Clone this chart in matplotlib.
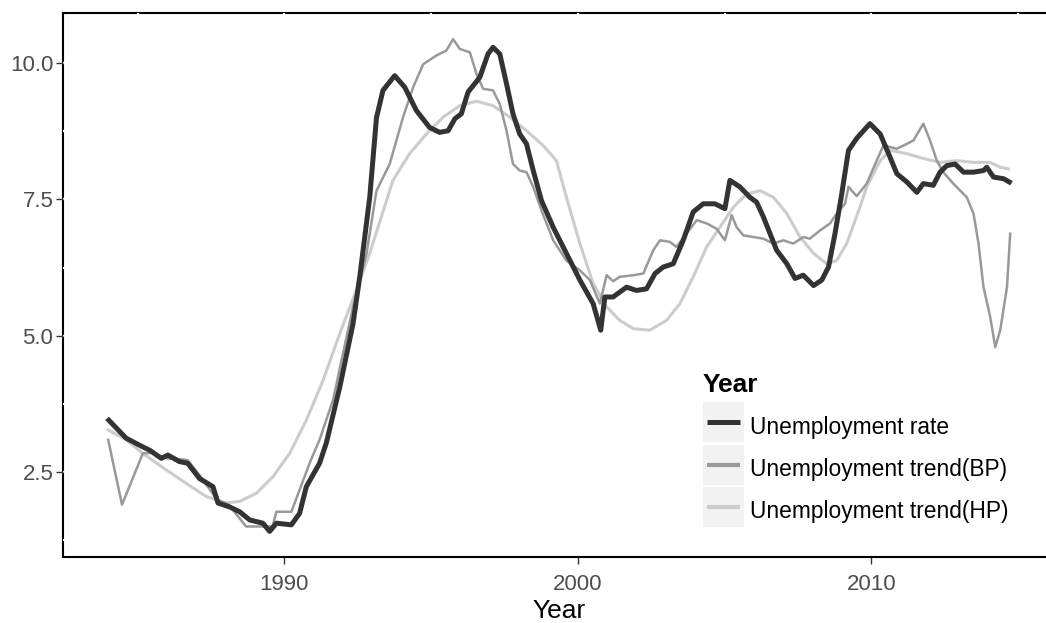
#!/usr/bin/env python3
"""Unemployment rate with BP and HP trends, saved as out.png."""

import matplotlib

matplotlib.use("Agg")

import matplotlib.pyplot as plt
from matplotlib.lines import Line2D
from matplotlib.patches import Rectangle
from matplotlib.ticker import FormatStrFormatter, MultipleLocator

# Values
rate_year = [1984.02, 1984.61, 1985.18, 1985.41, 1985.81, 1986.03, 1986.43, 1986.71,
             1987.11, 1987.57, 1987.74, 1988.13, 1988.48, 1988.82, 1989.27, 1989.50,
             1989.73, 1990.24, 1990.52, 1990.75, 1991.20, 1991.43, 1991.89, 1992.34,
             1992.57, 1992.91, 1993.14, 1993.36, 1993.76, 1994.10, 1994.50, 1994.95,
             1995.29, 1995.58, 1995.81, 1996.03, 1996.26, 1996.66, 1996.94, 1997.11,
             1997.34, 1997.57, 1997.79, 1998.02, 1998.25, 1998.48, 1998.76, 1999.16,
             1999.61, 2000.07, 2000.52, 2000.78, 2000.92, 2001.20, 2001.66, 2002.00,
             2002.34, 2002.63, 2002.91, 2003.25, 2003.59, 2003.93, 2004.27, 2004.67,
             2005.01, 2005.18, 2005.52, 2005.86, 2006.09, 2006.32, 2006.55, 2006.77,
             2007.12, 2007.40, 2007.68, 2008.03, 2008.31, 2008.54, 2008.76, 2008.99,
             2009.22, 2009.50, 2009.95, 2010.30, 2010.64, 2010.87, 2011.21, 2011.55,
             2011.77, 2012.11, 2012.34, 2012.57, 2012.85, 2013.14, 2013.48, 2013.82,
             2013.93, 2014.16, 2014.50, 2014.70]
rate_val = [3.45, 3.12, 2.96, 2.90, 2.75, 2.81, 2.69, 2.66,
            2.38, 2.23, 1.93, 1.86, 1.77, 1.62, 1.56, 1.41,
            1.56, 1.53, 1.74, 2.23, 2.66, 3.03, 4.06, 5.22,
            6.08, 7.54, 9.00, 9.50, 9.77, 9.56, 9.13, 8.82,
            8.73, 8.76, 8.98, 9.07, 9.47, 9.74, 10.17, 10.29,
            10.17, 9.62, 9.07, 8.70, 8.52, 8.03, 7.48, 6.99,
            6.51, 6.02, 5.59, 5.10, 5.71, 5.71, 5.89, 5.83,
            5.86, 6.14, 6.26, 6.32, 6.75, 7.27, 7.42, 7.42,
            7.33, 7.85, 7.73, 7.54, 7.45, 7.18, 6.87, 6.57,
            6.32, 6.05, 6.11, 5.92, 6.02, 6.26, 6.87, 7.60,
            8.40, 8.62, 8.89, 8.70, 8.27, 7.97, 7.82, 7.63,
            7.79, 7.76, 8.00, 8.12, 8.15, 8.00, 8.00, 8.03,
            8.09, 7.91, 7.88, 7.82]

bp_year = [1984.00, 1984.47, 1985.18, 1985.50, 1986.00, 1986.70, 1987.10, 1987.70,
           1988.10, 1988.70, 1989.30, 1989.60, 1989.73, 1990.24, 1990.52, 1990.86,
           1991.20, 1991.66, 1992.34, 1992.80, 1993.14, 1993.59, 1994.04, 1994.39,
           1994.73, 1995.18, 1995.52, 1995.75, 1995.98, 1996.32, 1996.55, 1996.77,
           1997.11, 1997.34, 1997.57, 1997.79, 1998.02, 1998.25, 1998.48, 1998.76,
           1999.16, 1999.61, 2000.07, 2000.41, 2000.75, 2000.98, 2001.20, 2001.43,
           2001.89, 2002.23, 2002.57, 2002.80, 2003.14, 2003.36, 2003.70, 2004.05,
           2004.39, 2004.73, 2005.01, 2005.24, 2005.41, 2005.64, 2005.98, 2006.32,
           2006.66, 2007.00, 2007.34, 2007.68, 2007.90, 2008.25, 2008.59, 2008.82,
           2009.10, 2009.22, 2009.50, 2009.84, 2010.18, 2010.41, 2010.87, 2011.21,
           2011.43, 2011.77, 2012.00, 2012.23, 2012.45, 2012.79, 2013.25, 2013.48,
           2013.65, 2013.82, 2014.05, 2014.22, 2014.39, 2014.62, 2014.73]
bp_val = [3.09, 1.90, 2.84, 2.85, 2.75, 2.72, 2.45, 2.00,
          1.90, 1.50, 1.50, 1.50, 1.77, 1.77, 2.17, 2.66,
          3.09, 3.82, 5.53, 6.50, 7.66, 8.15, 9.00, 9.56,
          9.98, 10.14, 10.23, 10.44, 10.26, 10.20, 9.80, 9.53,
          9.50, 9.25, 8.76, 8.15, 8.03, 8.00, 7.73, 7.30,
          6.75, 6.38, 6.20, 6.02, 5.59, 6.11, 6.00, 6.08,
          6.11, 6.14, 6.57, 6.75, 6.72, 6.63, 6.87, 7.12,
          7.06, 6.96, 6.75, 7.21, 6.99, 6.84, 6.81, 6.78,
          6.69, 6.75, 6.69, 6.81, 6.78, 6.93, 7.06, 7.24,
          7.42, 7.73, 7.56, 7.79, 8.21, 8.49, 8.43, 8.52,
          8.58, 8.89, 8.58, 8.21, 8.00, 7.79, 7.54, 7.24,
          6.69, 5.89, 5.34, 4.79, 5.10, 5.89, 6.87]

hp_year = [1984.00, 1984.61, 1985.18, 1985.97, 1986.66, 1987.34, 1988.02, 1988.48,
           1989.05, 1989.61, 1990.18, 1990.75, 1991.32, 1991.89, 1992.45, 1992.91,
           1993.70, 1994.27, 1994.84, 1995.41, 1995.98, 1996.55, 1997.11, 1997.68,
           1998.25, 1998.82, 1999.27, 1999.61, 2000.07, 2000.52, 2000.98, 2001.43,
           2001.89, 2002.45, 2003.02, 2003.48, 2003.93, 2004.39, 2004.84, 2005.30,
           2005.75, 2006.21, 2006.66, 2007.12, 2007.57, 2008.03, 2008.48, 2008.82,
           2009.16, 2009.61, 2009.84, 2010.30, 2010.64, 2011.21, 2011.77, 2012.34,
           2012.91, 2013.48, 2014.05, 2014.39, 2014.67]
hp_val = [3.27, 3.09, 2.84, 2.54, 2.29, 2.05, 1.93, 1.96,
          2.11, 2.41, 2.84, 3.45, 4.18, 5.04, 5.83, 6.51,
          7.85, 8.34, 8.70, 9.01, 9.22, 9.30, 9.22, 9.01,
          8.76, 8.49, 8.21, 7.54, 6.69, 5.96, 5.53, 5.28,
          5.13, 5.10, 5.28, 5.59, 6.08, 6.63, 6.99, 7.36,
          7.60, 7.66, 7.54, 7.24, 6.81, 6.51, 6.32, 6.38,
          6.69, 7.36, 7.73, 8.21, 8.40, 8.34, 8.25, 8.18,
          8.21, 8.18, 8.18, 8.09, 8.06]

series_labels = ["Unemployment rate", "Unemployment trend(BP)", "Unemployment trend(HP)"]
series_colors = ["#333333", "#999999", "#CCCCCC"]
series_widths = [3.6, 1.8, 2.2]
legend_widths = [3.6, 3.0, 3.0]

W, H = 1046, 623


class KeyHandler:
    """Clave de leyenda estilo ggplot: cuadro gris claro con la linea centrada."""

    # en puntos, relativo a la linea base del texto
    box_bottom = -6.3
    box_top = 22.5
    inset = 3.0

    def legend_artist(self, legend, orig_handle, fontsize, handlebox):
        x0 = -handlebox.xdescent
        w = handlebox.width
        rect = Rectangle((x0, self.box_bottom), w, self.box_top - self.box_bottom,
                         facecolor="#F2F2F2", edgecolor="none")
        yc = (self.box_bottom + self.box_top) / 2
        line = Line2D([x0 + self.inset, x0 + w - self.inset], [yc, yc],
                      color=orig_handle.get_color(),
                      linewidth=orig_handle.get_linewidth(),
                      solid_capstyle="butt")
        handlebox.add_artist(rect)
        handlebox.add_artist(line)
        return rect


def setup_axes(fig):
    # el panel se sale un poco por la derecha, como en la referencia
    ax = fig.add_axes([63 / W, 1 - 557 / H, (1056 - 63) / W, (557 - 13) / H])
    ax.set_xlim(1982.46, 2016.29)
    ax.set_ylim(0.94, 10.92)

    ax.xaxis.set_major_locator(MultipleLocator(10))
    ax.xaxis.set_minor_locator(MultipleLocator(5))
    ax.yaxis.set_major_locator(MultipleLocator(2.5))
    ax.yaxis.set_minor_locator(MultipleLocator(1.25))
    ax.yaxis.set_major_formatter(FormatStrFormatter("%.1f"))

    ax.grid(which="both", color="white", linewidth=1.6)
    ax.tick_params(which="major", length=5, width=1.0, color="#333333",
                   labelsize=16, labelcolor="#4D4D4D", pad=2)
    ax.tick_params(axis="x", pad=7)
    ax.tick_params(which="minor", length=0)

    for side in ["top", "left", "bottom"]:
        ax.spines[side].set_color("black")
        ax.spines[side].set_linewidth(1.5)
    ax.spines["right"].set_visible(False)
    # las lineas blancas del grid cortan el borde superior e izquierdo
    ax.spines["top"].set_zorder(1.0)
    ax.spines["left"].set_zorder(1.0)
    ax.spines["bottom"].set_zorder(3.0)

    ax.set_xlabel("Year", fontsize=19, labelpad=3)
    return ax


def main():
    plt.rcParams["font.family"] = ["Liberation Sans", "DejaVu Sans"]

    fig = plt.figure(figsize=(W / 100, H / 100), dpi=100)
    ax = setup_axes(fig)

    data = [(rate_year, rate_val), (bp_year, bp_val), (hp_year, hp_val)]
    # orden de dibujo: HP abajo, la tasa encima
    for i in [2, 1, 0]:
        xs, ys = data[i]
        ax.plot(xs, ys, color=series_colors[i], linewidth=series_widths[i],
                solid_joinstyle="round", zorder=2 + (2 - i) * 0.1)

    handles = [Line2D([], [], color=series_colors[i], linewidth=legend_widths[i])
               for i in range(3)]

    leg = ax.legend(
        handles, series_labels,
        handler_map={Line2D: KeyHandler()},
        title="Year",
        title_fontproperties={"weight": "bold", "size": 19},
        alignment="left",
        loc="upper left",
        bbox_to_anchor=(703 / W, 1 - 373 / H),
        bbox_transform=fig.transFigure,
        frameon=False,
        fontsize=16.4,
        borderpad=0,
        borderaxespad=0,
        handlelength=1.8,
        handleheight=1.4,
        handletextpad=0.25,
        labelspacing=0.7,
    )
    for txt in leg.get_texts():
        txt.set_color("black")

    fig.savefig("out.png", dpi=100)


if __name__ == "__main__":
    main()
